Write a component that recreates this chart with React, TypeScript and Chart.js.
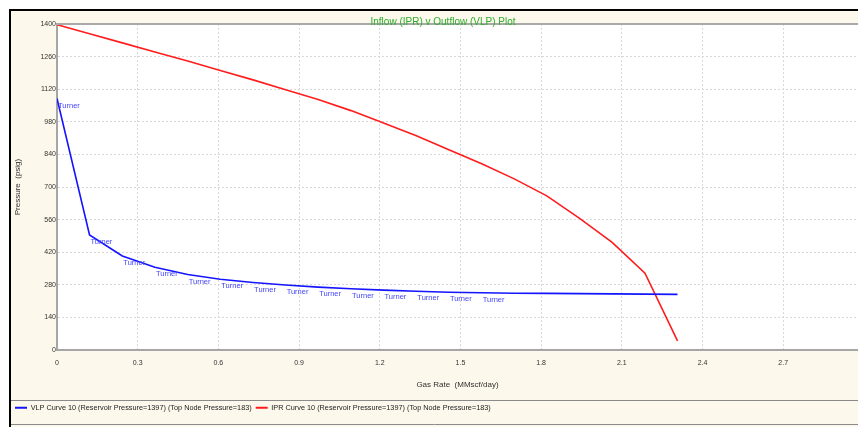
import React, { useEffect, useRef } from 'react';
import { Chart, registerables } from 'chart.js';

Chart.register(...registerables);

// ---- data ----
const gasRate = [0, 0.121, 0.243, 0.364, 0.486, 0.607, 0.729, 0.85, 0.971, 1.093, 1.214, 1.336, 1.457, 1.579, 1.7, 1.821, 1.943, 2.064, 2.186, 2.307];
const vlpPressure = [1080, 494, 404, 355, 324, 304, 290, 279, 270, 263, 257, 252, 248, 246, 244, 243, 242, 241, 240, 239];
const iprPressure = [1397, 1358, 1319, 1280, 1241, 1200, 1160, 1118, 1076, 1028, 975, 920, 860, 800, 735, 662, 565, 462, 330, 39];
const vlpPointLabels = ['Turner', 'Turner', 'Turner', 'Turner', 'Turner', 'Turner', 'Turner', 'Turner', 'Turner', 'Turner', 'Turner', 'Turner', 'Turner', 'Turner', '', '', '', '', '', ''];

const chartTitle = 'Inflow (IPR) v Outflow (VLP) Plot';
const xAxisTitle = 'Gas Rate  (MMscf/day)';
const yAxisTitle = 'Pressure  (psig)';
const vlpLegend = 'VLP Curve 10 (Reservoir Pressure=1397) (Top Node Pressure=183)';
const iprLegend = 'IPR Curve 10 (Reservoir Pressure=1397) (Top Node Pressure=183)';

const xMin = 0;
const xMax = 2.978;
const xStep = 0.3;
const yMin = 0;
const yMax = 1400;
const yStep = 140;

const FONT = '"Liberation Sans", Arial, sans-serif';
const CREAM = '#fdf8ec';
const VLP_COLOR = '#1414ff';
const IPR_COLOR = '#ff1c1c';

const decorPlugin = {
  id: 'decor',
  beforeDraw(chart: any) {
    const { ctx, chartArea: a } = chart;
    ctx.save();
    ctx.fillStyle = '#ffffff';
    ctx.fillRect(a.left, a.top, a.right - a.left, a.bottom - a.top);
    ctx.restore();
  },
  afterDatasetsDraw(chart: any) {
    const { ctx } = chart;
    const meta = chart.getDatasetMeta(0);
    ctx.save();
    ctx.font = `7.5px ${FONT}`;
    ctx.fillStyle = '#4646f6';
    ctx.textAlign = 'left';
    ctx.textBaseline = 'middle';
    meta.data.forEach((pt: any, i: number) => {
      const label = vlpPointLabels[i];
      if (label) ctx.fillText(label, pt.x + 1, pt.y + 7);
    });
    ctx.restore();
  },
  afterDraw(chart: any) {
    const { ctx, chartArea: a } = chart;
    ctx.save();
    // top border of plot area
    ctx.strokeStyle = '#a9a9a9';
    ctx.lineWidth = 2;
    ctx.beginPath();
    ctx.moveTo(a.left - 1, a.top);
    ctx.lineTo(chart.width, a.top);
    ctx.stroke();
    // legend box lines
    const lg = chart.legend;
    ctx.strokeStyle = '#8a8a8a';
    ctx.lineWidth = 1;
    ctx.beginPath();
    ctx.moveTo(0, Math.round(lg.top) + 0.5);
    ctx.lineTo(chart.width, Math.round(lg.top) + 0.5);
    ctx.moveTo(0, Math.round(lg.top) + 24.5);
    ctx.lineTo(chart.width, Math.round(lg.top) + 24.5);
    ctx.stroke();
    // title
    ctx.font = `10px ${FONT}`;
    ctx.fillStyle = '#2eae2e';
    ctx.textAlign = 'center';
    ctx.textBaseline = 'middle';
    ctx.fillText(chartTitle, 432, a.top - 1.5);
    ctx.restore();
  },
};

export default function App() {
  const canvasRef = useRef<HTMLCanvasElement | null>(null);

  useEffect(() => {
    if (!canvasRef.current) return;
    const chart = new Chart(canvasRef.current, {
      type: 'scatter',
      data: {
        datasets: [
          {
            label: vlpLegend,
            data: gasRate.map((x, i) => ({ x, y: vlpPressure[i] })),
            showLine: true,
            borderColor: VLP_COLOR,
            backgroundColor: VLP_COLOR,
            borderWidth: 1.6,
            pointRadius: 0,
            tension: 0,
          },
          {
            label: iprLegend,
            data: gasRate.map((x, i) => ({ x, y: iprPressure[i] })),
            showLine: true,
            borderColor: IPR_COLOR,
            backgroundColor: IPR_COLOR,
            borderWidth: 1.6,
            pointRadius: 0,
            tension: 0,
          },
        ],
      },
      options: {
        animation: false,
        responsive: false,
        devicePixelRatio: 1,
        layout: { padding: { top: 13, left: 0, right: 0, bottom: 5.7 } },
        plugins: {
          title: { display: false },
          tooltip: { enabled: false },
          legend: {
            display: true,
            position: 'bottom',
            align: 'start',
            labels: {
              font: { family: FONT, size: 7.3 },
              color: '#222222',
              boxWidth: 12,
              boxHeight: 2,
              padding: 4,
              generateLabels: (c: any) =>
                c.data.datasets.map((ds: any, i: number) => ({
                  text: ds.label,
                  fillStyle: ds.borderColor,
                  strokeStyle: ds.borderColor,
                  lineWidth: 0,
                  hidden: false,
                  datasetIndex: i,
                  fontColor: '#222222',
                })),
            },
          },
        },
        scales: {
          x: {
            type: 'linear',
            min: xMin,
            max: xMax,
            afterFit: (scale: any) => {
              scale.height = 50;
            },
            ticks: {
              stepSize: xStep,
              includeBounds: false,
              padding: 9,
              color: '#333333',
              font: { family: FONT, size: 7 },
              maxRotation: 0,
              callback: (v: any) => {
                const n = Math.round(Number(v) * 10) / 10;
                return n === 0 ? '0' : String(n);
              },
            },
            grid: { color: '#d8d8d8', lineWidth: 1, drawTicks: false },
            border: { color: '#a6a6a6', width: 2, dash: [2, 2] },
            title: {
              display: true,
              text: xAxisTitle,
              color: '#303030',
              font: { family: FONT, size: 8 },
              padding: { top: 0, bottom: 10 },
            },
          },
          y: {
            type: 'linear',
            min: yMin,
            max: yMax,
            afterFit: (scale: any) => {
              scale.width = 46;
            },
            ticks: {
              stepSize: yStep,
              padding: 1,
              color: '#333333',
              font: { family: FONT, size: 7 },
              callback: (v: any) => String(Math.round(Number(v))),
            },
            grid: { color: '#d8d8d8', lineWidth: 1, drawTicks: false },
            border: { color: '#a6a6a6', width: 2, dash: [2, 2] },
            title: {
              display: true,
              text: yAxisTitle,
              color: '#303030',
              font: { family: FONT, size: 8 },
              padding: { top: 2, bottom: 0 },
            },
          },
        },
      } as any,
      plugins: [decorPlugin],
    });
    return () => chart.destroy();
  }, []);

  return (
    <div
      style={{
        position: 'absolute',
        left: 0,
        top: 0,
        width: 858,
        height: 427,
        background: '#ffffff',
        overflow: 'hidden',
      }}
    >
      <div
        style={{
          position: 'absolute',
          left: 9,
          top: 9,
          width: 849,
          height: 418,
          background: CREAM,
          borderLeft: '2px solid #000',
          borderTop: '2px solid #000',
          boxSizing: 'border-box',
        }}
      >
        <canvas
          ref={canvasRef}
          width={847}
          height={416}
          style={{ display: 'block', width: 847, height: 416 }}
        />
      </div>
    </div>
  );
}
